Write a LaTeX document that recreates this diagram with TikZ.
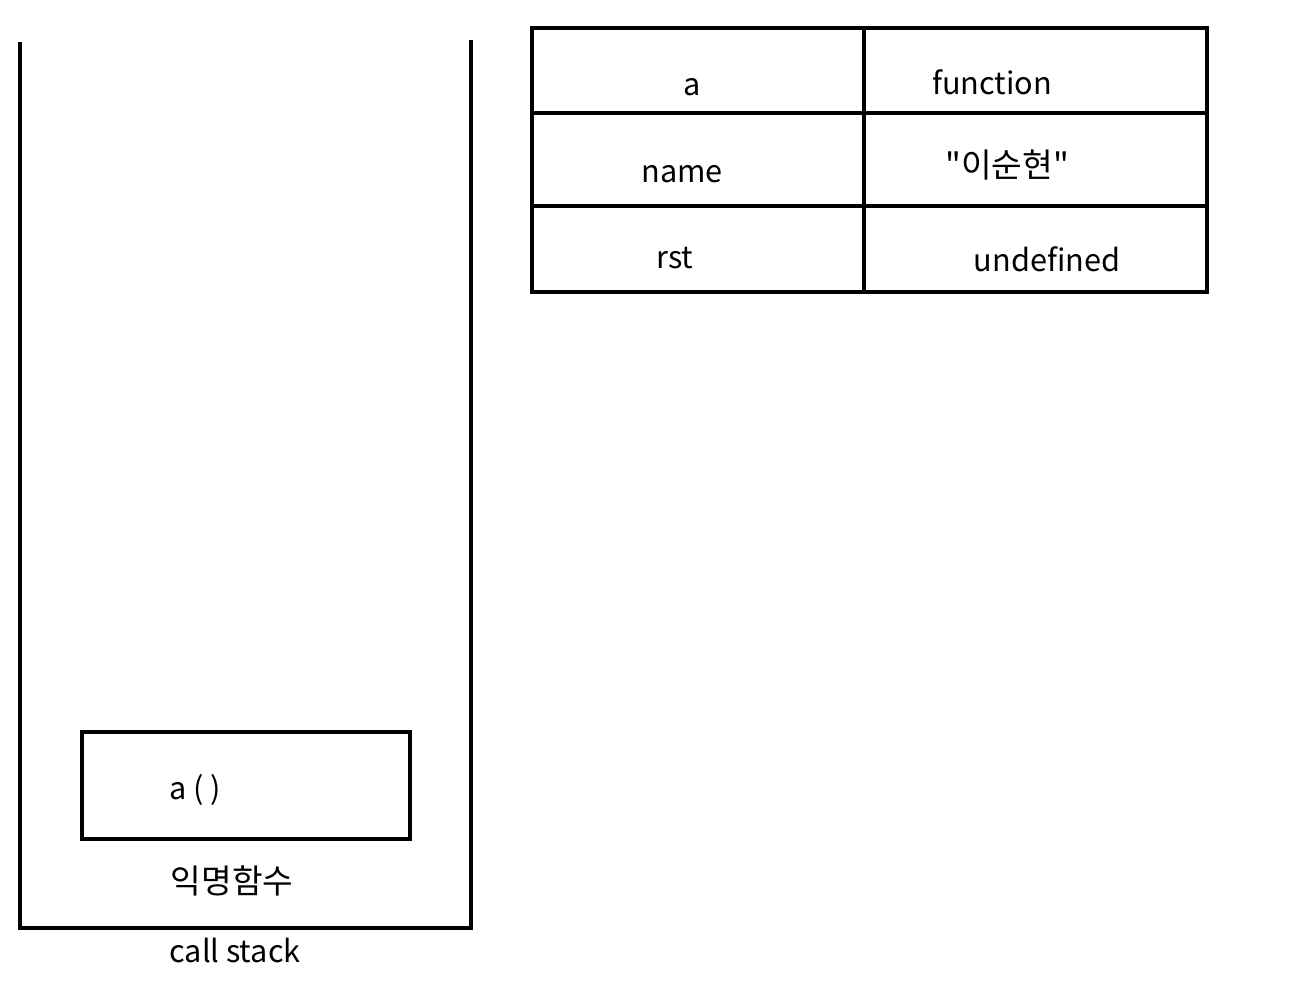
\documentclass[tikz,border=0pt]{standalone}
\usepackage{fontspec}
\setmainfont{Noto Sans CJK KR}
\newfontfamily\krfont{Noto Sans CJK KR}
\tikzset{every picture/.style={line width=3pt}}
\tikzset{lbl/.style={font=\fontsize{23}{27}\selectfont, inner sep=0pt},
  klbl/.style={font=\krfont\fontsize{25}{29}\selectfont, inner sep=0pt}}

\begin{document}
\begin{tikzpicture}[x=0.75pt,y=0.75pt,yscale=-1,xscale=1]
\useasboundingbox (0,0) rectangle (1294,997);

%Shape: call stack
\draw (20,42) -- (20,928) -- (471,928) -- (471,40) ;
%Shape: Rectangle a()
\draw (82,732) -- (410,732) -- (410,839) -- (82,839) -- cycle ;
%Shape: Table
\draw (532,28) -- (1207,28) -- (1207,292) -- (532,292) -- cycle ;
\draw (864,28) -- (864,292) ;
\draw (532,113) -- (1207,113) ;
\draw (532,206) -- (1207,206) ;

% Text Node
\node[lbl] (fa) at (195,790) {a ( )};
% Text Node
\node[klbl] (anon) at (232,881) {익명함수};
% Text Node
\node[lbl] (stack) at (235,950) {call stack};
% Text Node
\node[lbl] (ka) at (692,87) {a};
% Text Node
\node[lbl] (va) at (992,82) {function};
% Text Node
\node[lbl] (kname) at (682,174) {name};
% Text Node
\node[klbl] (vname) at (1007,165) {"이순현"};
% Text Node
\node[lbl] (krst) at (675,258) {rst};
% Text Node
\node[lbl] (vrst) at (1047,259) {undefined};

\end{tikzpicture}
\end{document}
